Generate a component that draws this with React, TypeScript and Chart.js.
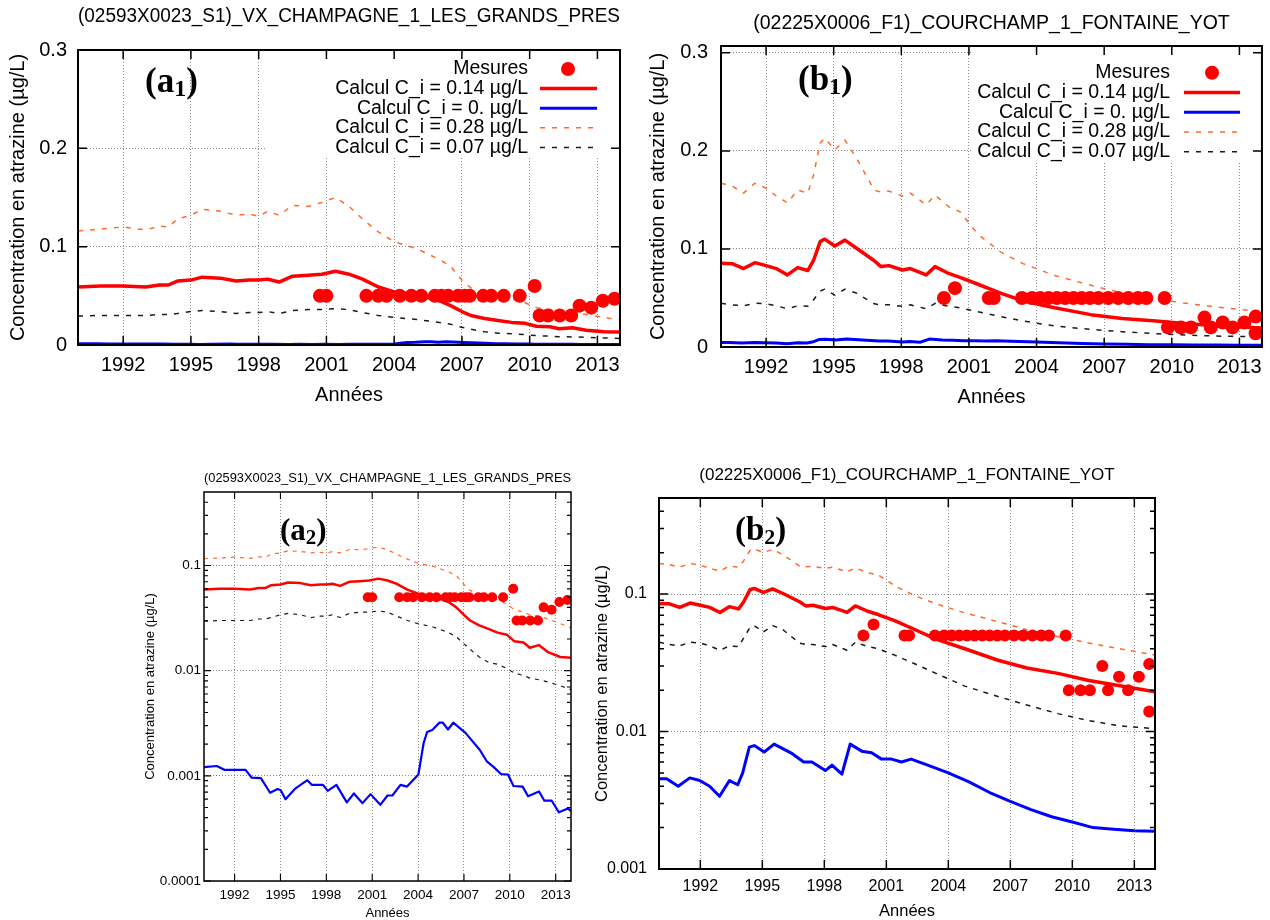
import React, { useEffect, useRef } from 'react';
import { Chart, registerables } from 'chart.js';

Chart.register(...registerables);

// ---------------- data ----------------
const xTickYears = [1992, 1995, 1998, 2001, 2004, 2007, 2010, 2013];
const xTickLabels = ['1992', '1995', '1998', '2001', '2004', '2007', '2010', '2013'];
const linTickValues = [0, 0.1, 0.2, 0.3];
const linTickLabels = ['0', '0.1', '0.2', '0.3'];
const logTickValuesA = [0.0001, 0.001, 0.01, 0.1];
const logTickLabelsA = ['0.0001', '0.001', '0.01', '0.1'];
const logTickValuesB = [0.001, 0.01, 0.1];
const logTickLabelsB = ['0.001', '0.01', '0.1'];

const seriesLabels = [
  'Mesures',
  'Calcul C_i = 0.14 µg/L',
  'Calcul C_i = 0. µg/L',
  'Calcul C_i = 0.28 µg/L',
  'Calcul C_i = 0.07 µg/L',
];
const titleA = '(02593X0023_S1)_VX_CHAMPAGNE_1_LES_GRANDS_PRES';
const titleB = '(02225X0006_F1)_COURCHAMP_1_FONTAINE_YOT';
const xAxisTitle = 'Années';
const yAxisTitle = 'Concentration en atrazine (µg/L)';

// Station A (VX_CHAMPAGNE)
const aYears = [1990, 1991, 1992, 1993, 1993.6, 1994.0, 1994.4, 1995.0, 1995.5, 1996.3, 1997.0, 1997.6, 1998.0, 1998.4, 1998.9, 1999.5, 2000.2, 2000.8, 2001.4, 2002.0, 2002.6, 2003.3, 2004.0, 2005.0, 2006.0, 2006.5, 2007.0, 2007.4, 2008.0, 2008.6, 2009.2, 2009.8, 2010.3, 2010.9, 2011.3, 2011.9, 2012.5, 2013.3, 2014.0];
const aRed = [0.059, 0.060, 0.060, 0.059, 0.061, 0.061, 0.065, 0.066, 0.069, 0.068, 0.065, 0.066, 0.066, 0.067, 0.064, 0.070, 0.071, 0.072, 0.075, 0.072, 0.067, 0.059, 0.054, 0.051, 0.045, 0.040, 0.034, 0.030, 0.027, 0.025, 0.023, 0.022, 0.019, 0.0185, 0.0165, 0.0175, 0.015, 0.0135, 0.0133];
const aOrange = [0.116, 0.118, 0.120, 0.117, 0.121, 0.120, 0.128, 0.132, 0.138, 0.136, 0.132, 0.133, 0.131, 0.136, 0.132, 0.142, 0.141, 0.145, 0.150, 0.141, 0.128, 0.115, 0.105, 0.098, 0.087, 0.080, 0.066, 0.058, 0.052, 0.050, 0.047, 0.043, 0.038, 0.036, 0.034, 0.033, 0.031, 0.028, 0.0255];
const aBlack = [0.0295, 0.030, 0.030, 0.030, 0.031, 0.031, 0.032, 0.034, 0.035, 0.034, 0.032, 0.033, 0.033, 0.034, 0.032, 0.035, 0.036, 0.036, 0.037, 0.036, 0.033, 0.030, 0.028, 0.026, 0.023, 0.021, 0.018, 0.016, 0.0135, 0.012, 0.0115, 0.0105, 0.0095, 0.009, 0.0085, 0.0082, 0.0078, 0.0072, 0.0066];
const aBlueYears = [1990.0, 1990.84, 1991.33, 1992.72, 1993.12, 1993.72, 1994.32, 1994.82, 1995.02, 1995.33, 1995.94, 1996.76, 1997.06, 1997.78, 1998.09, 1998.66, 1999.34, 1999.8, 2000.37, 2000.89, 2001.53, 2002.0, 2002.32, 2002.85, 2003.28, 2004.02, 2004.36, 2004.59, 2004.93, 2005.39, 2005.62, 2005.96, 2006.3, 2007.1, 2008.04, 2008.5, 2008.95, 2009.42, 2009.88, 2010.24, 2010.84, 2011.19, 2011.91, 2012.26, 2012.74, 2013.21, 2013.8, 2014.0];
const aBlue = [0.00121, 0.00124, 0.00114, 0.00114, 0.00096, 0.00095, 0.00069, 0.00075, 0.00073, 0.00060, 0.00075, 0.00091, 0.00082, 0.00082, 0.00072, 0.00082, 0.00056, 0.00068, 0.00055, 0.00067, 0.00053, 0.00065, 0.00065, 0.00082, 0.00079, 0.00103, 0.00204, 0.00261, 0.00273, 0.0032, 0.0032, 0.00276, 0.0032, 0.00256, 0.00176, 0.00137, 0.00121, 0.00104, 0.00103, 0.00080, 0.00079, 0.00064, 0.00071, 0.00058, 0.00058, 0.00045, 0.00049, 0.00046];
const aMeasYears = [2000.71, 2001.0, 2002.77, 2003.29, 2003.66, 2004.25, 2004.76, 2005.2, 2005.8, 2006.09, 2006.39, 2006.83, 2007.12, 2007.35, 2007.94, 2008.3, 2008.85, 2009.56, 2010.22, 2010.44, 2010.81, 2011.33, 2011.84, 2012.21, 2012.73, 2013.24, 2013.76];
const aMeas = [0.05, 0.05, 0.05, 0.05, 0.05, 0.05, 0.05, 0.05, 0.05, 0.05, 0.05, 0.05, 0.05, 0.05, 0.05, 0.05, 0.05, 0.05, 0.06, 0.03, 0.03, 0.03, 0.03, 0.04, 0.038, 0.045, 0.047];

// Station B (COURCHAMP)
const bYears = [1990, 1990.5, 1991.0, 1991.5, 1992.0, 1992.45, 1992.95, 1993.4, 1993.85, 1994.1, 1994.4, 1994.6, 1995.05, 1995.5, 1996.0, 1996.8, 1997.1, 1997.45, 1998.05, 1998.4, 1999.1, 1999.5, 2000.1, 2000.6, 2001.4, 2002.4, 2003.4, 2004.8, 2006.4, 2007.8, 2009.3, 2010.8, 2012.3, 2014.0];
const bRed = [0.0854, 0.085, 0.080, 0.086, 0.083, 0.080, 0.0735, 0.081, 0.078, 0.088, 0.1075, 0.110, 0.103, 0.109, 0.101, 0.088, 0.082, 0.083, 0.0785, 0.080, 0.0735, 0.082, 0.075, 0.071, 0.064, 0.055, 0.047, 0.040, 0.033, 0.029, 0.0265, 0.0235, 0.0215, 0.0195];
const bOrange = [0.167, 0.164, 0.157, 0.167, 0.162, 0.154, 0.147, 0.160, 0.157, 0.175, 0.208, 0.213, 0.201, 0.211, 0.193, 0.160, 0.158, 0.159, 0.154, 0.157, 0.145, 0.155, 0.143, 0.138, 0.115, 0.097, 0.085, 0.073, 0.063, 0.055, 0.049, 0.044, 0.040, 0.036];
const bBlack = [0.0446, 0.043, 0.042, 0.0446, 0.044, 0.042, 0.039, 0.042, 0.0415, 0.048, 0.057, 0.059, 0.053, 0.059, 0.055, 0.044, 0.043, 0.043, 0.0415, 0.043, 0.039, 0.0446, 0.0415, 0.040, 0.036, 0.031, 0.0265, 0.0214, 0.018, 0.0156, 0.0135, 0.012, 0.011, 0.0105];
const bBlueYears = [1990, 1990.37, 1990.93, 1991.49, 1991.97, 1992.45, 1992.93, 1993.41, 1993.81, 1994.05, 1994.37, 1994.61, 1995.09, 1995.57, 1996.45, 1997.0, 1997.4, 1998.05, 1998.37, 1998.85, 1999.25, 1999.81, 2000.29, 2000.77, 2001.25, 2001.73, 2002.2, 2002.87, 2004.0, 2005.0, 2006.0, 2007.0, 2008.0, 2009.0, 2010.0, 2011.0, 2012.0, 2013.0, 2014.0];
const bBlue = [0.00454, 0.00454, 0.0040, 0.0046, 0.0044, 0.0040, 0.00338, 0.0044, 0.0041, 0.0050, 0.0077, 0.0079, 0.0071, 0.0081, 0.0069, 0.0060, 0.0060, 0.0052, 0.0057, 0.0049, 0.0081, 0.0072, 0.0070, 0.0063, 0.0063, 0.0060, 0.0063, 0.0058, 0.0050, 0.0043, 0.0036, 0.0031, 0.0027, 0.0024, 0.0022, 0.0020, 0.00195, 0.0019, 0.00188];
const bMeasYears = [1999.89, 2000.38, 2001.88, 2002.1, 2003.35, 2003.8, 2004.16, 2004.53, 2004.9, 2005.27, 2005.64, 2006.0, 2006.37, 2006.74, 2007.18, 2007.62, 2008.07, 2008.5, 2008.87, 2009.68, 2009.83, 2010.4, 2010.85, 2011.45, 2011.73, 2012.26, 2012.7, 2013.22, 2013.72, 2013.72];
const bMeas = [0.05, 0.06, 0.05, 0.05, 0.05, 0.05, 0.05, 0.05, 0.05, 0.05, 0.05, 0.05, 0.05, 0.05, 0.05, 0.05, 0.05, 0.05, 0.05, 0.05, 0.02, 0.02, 0.02, 0.03, 0.02, 0.025, 0.02, 0.025, 0.031, 0.014];

// ---------------- styles / layout ----------------
const SANS = '"Liberation Sans", Arial, Helvetica, sans-serif';
const SERIF = '"Liberation Serif", "Times New Roman", serif';
const RED = '#ff0000';
const BLUE = '#0000ff';
const ORANGE = '#ff6a2a';
const DARK = '#1a1a1a';
const GRID = '#8c8c8c';

type Station = {
  years: number[]; red: number[]; orange: number[]; black: number[];
  blueYears: number[]; blue: number[]; measYears: number[]; meas: number[];
};
const stationA: Station = { years: aYears, red: aRed, orange: aOrange, black: aBlack, blueYears: aBlueYears, blue: aBlue, measYears: aMeasYears, meas: aMeas };
const stationB: Station = { years: bYears, red: bRed, orange: bOrange, black: bBlack, blueYears: bBlueYears, blue: bBlue, measYears: bMeasYears, meas: bMeas };

type Legend = { box: [number, number, number, number]; textRight: number; sampleL: number; sampleR: number; dotX: number; firstY: number; dy: number; size: number };
type Panel = {
  key: string; station: Station; title: string; log: boolean;
  yMin: number; yMax: number; yTicks: number[]; yLabels: string[];
  left: number; top: number; width: number; height: number;
  area: [number, number, number, number];
  titleSize: number; titleCenterY: number;
  tickSize: number; axisTitleSize: number;
  xTickCenterY: number; yTickRight: number; xTitleCenterY: number; yTitleCenterX: number;
  frameWidth: number; tickLen: number; minorLen: number;
  redW: number; blueW: number; dashW: number; dash: number[]; pointR: number;
  legend?: Legend;
  tag: { letter: string; sub: string; x: number; baseline: number; size: number; subSize: number; subDrop: number };
};

const panels: Panel[] = [
  {
    key: 'a1', station: stationA, title: titleA, log: false,
    yMin: 0, yMax: 0.3, yTicks: linTickValues, yLabels: linTickLabels,
    left: 0, top: 0, width: 640, height: 410, area: [78, 50, 620, 345],
    titleSize: 19.5, titleCenterY: 17, tickSize: 20, axisTitleSize: 20,
    xTickCenterY: 365, yTickRight: 67, xTitleCenterY: 395, yTitleCenterX: 18,
    frameWidth: 2, tickLen: 9, minorLen: 0,
    redW: 3.5, blueW: 3, dashW: 1.5, dash: [5, 7], pointR: 7,
    legend: { box: [265, 50, 620, 158], textRight: 528, sampleL: 540, sampleR: 597, dotX: 568, firstY: 69, dy: 19.6, size: 19.5 },
    tag: { letter: 'a', sub: '1', x: 145, baseline: 92, size: 35, subSize: 24, subDrop: 4 },
  },
  {
    key: 'b1', station: stationB, title: titleB, log: false,
    yMin: 0, yMax: 0.307, yTicks: linTickValues, yLabels: linTickLabels,
    left: 640, top: 0, width: 630, height: 410, area: [721, 46, 1263, 347],
    titleSize: 19.5, titleCenterY: 24, tickSize: 20, axisTitleSize: 20,
    xTickCenterY: 367, yTickRight: 708, xTitleCenterY: 397, yTitleCenterX: 658,
    frameWidth: 2, tickLen: 9, minorLen: 0,
    redW: 3.5, blueW: 3, dashW: 1.5, dash: [5, 7], pointR: 7,
    legend: { box: [972, 46, 1263, 162], textRight: 1170, sampleL: 1184, sampleR: 1240, dotX: 1212, firstY: 72.7, dy: 19.75, size: 19.5 },
    tag: { letter: 'b', sub: '1', x: 798, baseline: 90, size: 35, subSize: 24, subDrop: 4 },
  },
  {
    key: 'a2', station: stationA, title: titleA, log: true,
    yMin: 0.0001, yMax: 0.5, yTicks: logTickValuesA, yLabels: logTickLabelsA,
    left: 130, top: 455, width: 460, height: 465, area: [204, 492, 571, 881],
    titleSize: 13, titleCenterY: 478, tickSize: 13.5, axisTitleSize: 13,
    xTickCenterY: 895, yTickRight: 201, xTitleCenterY: 913, yTitleCenterX: 150,
    frameWidth: 1.5, tickLen: 7, minorLen: 4,
    redW: 2.5, blueW: 2.2, dashW: 1.2, dash: [4, 5], pointR: 5,
    tag: { letter: 'a', sub: '2', x: 280, baseline: 540, size: 31, subSize: 21, subDrop: 4 },
  },
  {
    key: 'b2', station: stationB, title: titleB, log: true,
    yMin: 0.001, yMax: 0.5, yTicks: logTickValuesB, yLabels: logTickLabelsB,
    left: 590, top: 455, width: 680, height: 465, area: [659, 498, 1155, 869],
    titleSize: 17, titleCenterY: 475, tickSize: 16, axisTitleSize: 16.5,
    xTickCenterY: 887, yTickRight: 647, xTitleCenterY: 911, yTitleCenterX: 602,
    frameWidth: 2, tickLen: 9, minorLen: 5,
    redW: 3.5, blueW: 3, dashW: 1.5, dash: [5, 6], pointR: 6,
    tag: { letter: 'b', sub: '2', x: 735, baseline: 540, size: 33, subSize: 22, subDrop: 4 },
  },
];

const toPoints = (xs: number[], ys: number[]) => xs.map((x, i) => ({ x, y: ys[i] }));

function framePlugin(p: Panel) {
  return {
    id: 'gnuFrame_' + p.key,
    beforeDatasetsDraw(chart: any) {
      if (!p.legend) return;
      const ctx = chart.ctx;
      const [l, t, r, b] = p.legend.box;
      ctx.save();
      ctx.fillStyle = '#ffffff';
      ctx.fillRect(l - p.left, t - p.top, r - l, b - t);
      ctx.restore();
    },
    afterDraw(chart: any) {
      const ctx = chart.ctx;
      const a = chart.chartArea;
      const xs = chart.scales.x;
      const ys = chart.scales.y;
      ctx.save();
      ctx.strokeStyle = '#000';
      ctx.lineWidth = p.frameWidth * 0.75;
      ctx.setLineDash([]);
      ctx.beginPath();
      xTickYears.forEach((v) => {
        const px = xs.getPixelForValue(v);
        ctx.moveTo(px, a.bottom); ctx.lineTo(px, a.bottom - p.tickLen);
        ctx.moveTo(px, a.top); ctx.lineTo(px, a.top + p.tickLen);
      });
      p.yTicks.forEach((v) => {
        const py = ys.getPixelForValue(v);
        ctx.moveTo(a.left, py); ctx.lineTo(a.left + p.tickLen, py);
        ctx.moveTo(a.right, py); ctx.lineTo(a.right - p.tickLen, py);
      });
      if (p.log) {
        for (let d = p.yMin; d < p.yMax; d *= 10) {
          for (let k = 2; k <= 9; k++) {
            const v = k * d;
            if (v >= p.yMax) break;
            const py = ys.getPixelForValue(v);
            ctx.moveTo(a.left, py); ctx.lineTo(a.left + p.minorLen, py);
            ctx.moveTo(a.right, py); ctx.lineTo(a.right - p.minorLen, py);
          }
        }
      }
      ctx.stroke();
      ctx.lineWidth = p.frameWidth;
      ctx.strokeRect(a.left, a.top, a.right - a.left, a.bottom - a.top);

      // legend
      if (p.legend) {
        const lg = p.legend;
        ctx.font = `${lg.size}px ${SANS}`;
        ctx.textAlign = 'right';
        ctx.textBaseline = 'middle';
        chart.data.datasets.forEach((ds: any, i: number) => {
          const y = lg.firstY + i * lg.dy - p.top;
          ctx.fillStyle = '#000';
          ctx.fillText(ds.label, lg.textRight - p.left, y);
          if (i === 0) {
            ctx.beginPath();
            ctx.fillStyle = ds.pointBackgroundColor;
            ctx.arc(lg.dotX - p.left, y, ds.pointRadius, 0, Math.PI * 2);
            ctx.fill();
          } else {
            ctx.beginPath();
            ctx.strokeStyle = ds.borderColor;
            ctx.lineWidth = ds.borderWidth;
            ctx.setLineDash(ds.borderDash || []);
            ctx.moveTo(lg.sampleL - p.left, y);
            ctx.lineTo(lg.sampleR - p.left, y);
            ctx.stroke();
            ctx.setLineDash([]);
          }
        });
      }

      // panel tag like (a1)
      const tg = p.tag;
      ctx.fillStyle = '#000';
      ctx.textAlign = 'left';
      ctx.textBaseline = 'alphabetic';
      let x = tg.x - p.left;
      const y = tg.baseline - p.top;
      ctx.font = `bold ${tg.size}px ${SERIF}`;
      ctx.fillText('(' + tg.letter, x, y);
      x += ctx.measureText('(' + tg.letter).width;
      ctx.font = `bold ${tg.subSize}px ${SERIF}`;
      ctx.fillText(tg.sub, x, y + tg.subDrop);
      x += ctx.measureText(tg.sub).width;
      ctx.font = `bold ${tg.size}px ${SERIF}`;
      ctx.fillText(')', x, y);
      ctx.restore();
    },
  };
}

function buildConfig(p: Panel): any {
  const st = p.station;
  const [al, at, ar, ab] = p.area;
  const font = (size: number) => ({ family: SANS, size, weight: 'normal', lineHeight: 1.2 });
  const titleLH = p.titleSize * 1.2;
  const titlePadTop = p.titleCenterY - p.top - titleLH / 2;
  const titlePadBottom = at - p.top - titlePadTop - titleLH;
  const yAxisW = al - p.left;
  const xAxisH = p.top + p.height - ab;
  const padRight = p.left + p.width - ar;
  const xTickPad = p.xTickCenterY - ab - 0.6 * p.tickSize;
  const yTickPad = al - p.yTickRight;
  const axLH = p.axisTitleSize * 1.2;
  const xTitlePadBottom = p.top + p.height - p.xTitleCenterY - axLH / 2;
  const yTitlePadTop = p.yTitleCenterX - p.left - axLH / 2;

  const lineDs = (label: string, xs: number[], ys: number[], color: string, width: number, dash: number[]) => ({
    label, data: toPoints(xs, ys), showLine: true, borderColor: color, backgroundColor: color,
    borderWidth: width, borderDash: dash, pointRadius: 0, pointHoverRadius: 0, tension: 0,
    fill: false, borderJoinStyle: 'round', borderCapStyle: 'butt',
  });

  const datasets = [
    {
      label: seriesLabels[0], data: toPoints(st.measYears, st.meas), showLine: false,
      pointRadius: p.pointR, pointHoverRadius: p.pointR, pointBackgroundColor: RED,
      pointBorderWidth: 0, borderColor: RED, backgroundColor: RED, pointStyle: 'circle',
    },
    lineDs(seriesLabels[1], st.years, st.red, RED, p.redW, []),
    lineDs(seriesLabels[2], st.blueYears, st.blue, BLUE, p.blueW, []),
    lineDs(seriesLabels[3], st.years, st.orange, ORANGE, p.dashW, p.dash),
    lineDs(seriesLabels[4], st.years, st.black, DARK, p.dashW, p.dash),
  ];

  return {
    type: 'scatter',
    data: { datasets },
    options: {
      animation: false,
      responsive: false,
      maintainAspectRatio: false,
      events: [],
      layout: { padding: { left: 0, top: 0, right: padRight, bottom: 0 } },
      plugins: {
        legend: { display: false },
        tooltip: { enabled: false },
        title: {
          display: true, text: p.title, color: '#000', fullSize: false,
          font: font(p.titleSize), padding: { top: titlePadTop, bottom: titlePadBottom },
        },
      },
      scales: {
        x: {
          type: 'linear', min: 1990, max: 2014,
          afterBuildTicks: (s: any) => { s.ticks = xTickYears.map((v) => ({ value: v })); },
          afterFit: (s: any) => { s.height = xAxisH; },
          ticks: {
            autoSkip: false, maxRotation: 0, minRotation: 0, padding: xTickPad, color: '#000',
            font: font(p.tickSize), callback: (_v: any, i: number) => xTickLabels[i],
          },
          grid: { color: GRID, lineWidth: 1, drawTicks: false },
          border: { display: false, dash: [1, 2] },
          title: {
            display: true, text: xAxisTitle, color: '#000', font: font(p.axisTitleSize),
            padding: { top: 0, bottom: xTitlePadBottom },
          },
        },
        y: {
          type: p.log ? 'logarithmic' : 'linear', min: p.yMin, max: p.yMax,
          afterBuildTicks: (s: any) => { s.ticks = p.yTicks.map((v) => ({ value: v })); },
          afterFit: (s: any) => { s.width = yAxisW; },
          ticks: {
            autoSkip: false, padding: yTickPad, color: '#000', font: font(p.tickSize),
            callback: (_v: any, i: number) => p.yLabels[i],
          },
          grid: { color: GRID, lineWidth: 1, drawTicks: false },
          border: { display: false, dash: [1, 2] },
          title: {
            display: true, text: yAxisTitle, color: '#000', font: font(p.axisTitleSize),
            padding: { top: yTitlePadTop, bottom: 0 },
          },
        },
      },
    },
    plugins: [framePlugin(p)],
  };
}

export default function App() {
  const refs = useRef<(HTMLCanvasElement | null)[]>([]);
  useEffect(() => {
    const charts = panels.map((p, i) => new Chart(refs.current[i] as HTMLCanvasElement, buildConfig(p)));
    return () => charts.forEach((c) => c.destroy());
  }, []);
  return (
    <div style={{ position: 'absolute', left: 0, top: 0, width: 1270, height: 920, background: '#fff', overflow: 'hidden' }}>
      {panels.map((p, i) => (
        <canvas
          key={p.key}
          ref={(el) => { refs.current[i] = el; }}
          width={p.width}
          height={p.height}
          style={{ position: 'absolute', left: p.left, top: p.top, width: p.width, height: p.height }}
        />
      ))}
    </div>
  );
}
